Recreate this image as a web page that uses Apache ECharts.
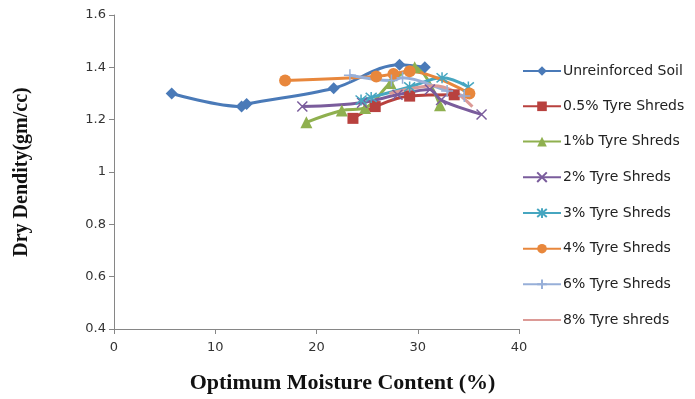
<!DOCTYPE html>
<html>
<head>
<meta charset="utf-8">
<script src="https://cdn.jsdelivr.net/npm/echarts@6/dist/echarts.min.js"></script>
<style>html,body{margin:0;padding:0;background:#fff;}#c{width:695px;height:399px;}</style>
</head>
<body>
<div id="c"></div>
<script>
// Data (x = Optimum Moisture Content %, y = Dry Density gm/cc)
const seriesNames = ["Unreinforced Soil", "0.5% Tyre Shreds", "1%b Tyre Shreds", "2% Tyre Shreds", "3% Tyre Shreds", "4% Tyre Shreds", "6% Tyre Shreds", "8% Tyre shreds"];
const unreinforcedX = [5.7, 12.6, 13.1, 21.7, 28.2, 30.7];
const unreinforcedY = [1.30, 1.25, 1.26, 1.32, 1.41, 1.40];
const tyre05X = [23.6, 25.8, 29.2, 33.6];
const tyre05Y = [1.205, 1.25, 1.29, 1.295];
const tyre1X = [19.0, 22.5, 24.8, 27.3, 29.7, 32.2];
const tyre1Y = [1.19, 1.235, 1.245, 1.34, 1.40, 1.255];
const tyre2X = [18.6, 24.5, 28.0, 31.2, 32.3, 36.3];
const tyre2Y = [1.25, 1.265, 1.295, 1.315, 1.275, 1.22];
const tyre3X = [24.4, 25.4, 29.2, 32.4, 35.0];
const tyre3Y = [1.275, 1.285, 1.325, 1.36, 1.325];
const tyre4X = [16.9, 25.9, 27.6, 29.2, 35.1];
const tyre4Y = [1.35, 1.365, 1.375, 1.385, 1.30];
const tyre6X = [23.3, 27.4, 28.5, 32.9, 34.6];
const tyre6Y = [1.37, 1.35, 1.36, 1.31, 1.29];
const tyre8X = [27.2, 29.5, 31.5, 33.5, 35.4];
const tyre8Y = [1.30, 1.32, 1.33, 1.31, 1.25];
const xTicks = { min: 0, max: 40, interval: 10 };
const yTicks = { min: 0.4, max: 1.6, interval: 0.2 };

const allX = [unreinforcedX, tyre05X, tyre1X, tyre2X, tyre3X, tyre4X, tyre6X, tyre8X];
const allY = [unreinforcedY, tyre05Y, tyre1Y, tyre2Y, tyre3Y, tyre4Y, tyre6Y, tyre8Y];

const colors = ['#4a7ab8', '#b8413e', '#8fb04f', '#7a5c9c', '#46a6c0', '#e8873c', '#97afd8', '#dc9a96'];
const xPath = 'path://M0,0L10,10M0,10L10,0';
const starPath = 'path://M0,0L10,10M0,10L10,0M5,-1L5,11';
const plusPath = 'path://M5,0L5,10M0,5L10,5';
const symbols = [
  { symbol: 'diamond', size: 12, style: 'fill', show: true },
  { symbol: 'rect', size: 11, style: 'fill', show: true },
  { symbol: 'triangle', size: 12, style: 'fill', show: true },
  { symbol: xPath, size: 10, style: 'stroke', show: true },
  { symbol: starPath, size: 11, style: 'stroke', show: true },
  { symbol: 'circle', size: 12, style: 'fill', show: true },
  { symbol: plusPath, size: 12, style: 'stroke', show: true },
  { symbol: 'circle', size: 6, style: 'hidden', show: false }
];

const series = seriesNames.map((name, i) => {
  const s = symbols[i];
  let itemStyle;
  if (s.style === 'fill') itemStyle = { color: colors[i] };
  else if (s.style === 'stroke') itemStyle = { color: 'none', borderColor: colors[i], borderWidth: 1.5 };
  else itemStyle = { color: 'rgba(0,0,0,0)', borderColor: 'rgba(0,0,0,0)', borderWidth: 0 };
  return {
    name: name,
    type: 'line',
    smooth: 0.35,
    data: allX[i].map((x, j) => [x, allY[i][j]]),
    symbol: s.symbol,
    symbolSize: s.size,
    showSymbol: s.show,
    lineStyle: { color: colors[i], width: 3 },
    itemStyle: itemStyle,
    emphasis: { disabled: true },
    animation: false
  };
});

const chart = echarts.init(document.getElementById('c'), null, { renderer: 'canvas' });
chart.setOption({
  animation: false,
  backgroundColor: '#fff',
  grid: { left: 114, right: 176, top: 15, bottom: 66 },
  legend: {
    orient: 'vertical',
    left: 522,
    top: 64,
    padding: 0,
    itemWidth: 38,
    itemHeight: 12,
    itemGap: 21.3,
    textStyle: { fontFamily: 'DejaVu Sans', fontSize: 14, color: '#222', padding: [0, 0, 0, -3] },
    data: seriesNames
  },
  xAxis: {
    type: 'value',
    min: xTicks.min, max: xTicks.max, interval: xTicks.interval,
    axisLine: { show: true, lineStyle: { color: '#868686', width: 1 } },
    axisTick: { show: true, length: 5, lineStyle: { color: '#868686' } },
    splitLine: { show: false },
    axisLabel: { fontFamily: 'DejaVu Sans', fontSize: 13, color: '#333', margin: 12 },
    name: 'Optimum Moisture Content (%)',
    nameLocation: 'middle',
    nameGap: 43,
    nameTextStyle: { fontFamily: 'Liberation Serif', fontWeight: 'bold', fontSize: 22, color: '#111', padding: [0, 0, 0, 52] }
  },
  yAxis: {
    type: 'value',
    min: yTicks.min, max: yTicks.max, interval: yTicks.interval,
    axisLine: { show: true, lineStyle: { color: '#868686', width: 1 } },
    axisTick: { show: true, length: 5, lineStyle: { color: '#868686' } },
    splitLine: { show: false },
    axisLabel: { fontFamily: 'DejaVu Sans', fontSize: 13, color: '#333', margin: 8 },
    name: 'Dry Dendity(gm/cc)',
    nameLocation: 'middle',
    nameGap: 82,
    nameTextStyle: { fontFamily: 'Liberation Serif', fontWeight: 'bold', fontSize: 20, color: '#111' }
  },
  series: series
});
</script>
</body>
</html>
